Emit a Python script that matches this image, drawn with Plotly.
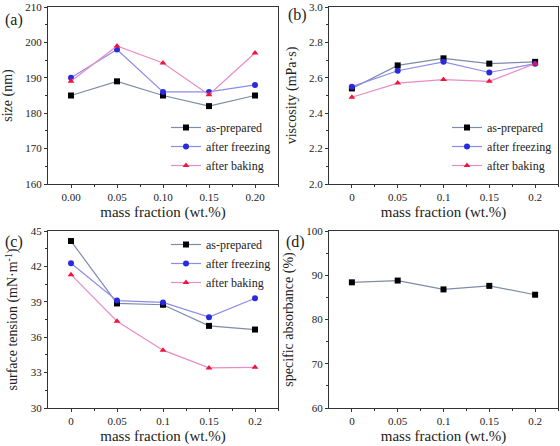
import plotly.graph_objects as go

x_vals = [0.0, 0.05, 0.10, 0.15, 0.20]
series_names = ["as-prepared", "after freezing", "after baking"]

size_asprep = [185, 189, 185, 182, 185]
size_freeze = [190, 198, 186, 186, 188]
size_bake = [189, 199, 194.2, 185.2, 197]

visc_asprep = [2.54, 2.67, 2.71, 2.68, 2.69]
visc_freeze = [2.55, 2.64, 2.69, 2.63, 2.68]
visc_bake = [2.49, 2.57, 2.59, 2.58, 2.68]

tens_asprep = [44.15, 38.86, 38.75, 36.96, 36.65]
tens_freeze = [42.27, 39.1, 38.95, 37.7, 39.3]
tens_bake = [41.3, 37.35, 34.9, 33.4, 33.45]

absorb = [88.4, 88.8, 86.8, 87.6, 85.6]

xtick_text_a = ["0.00", "0.05", "0.10", "0.15", "0.20"]
xtick_text = ["0", "0.05", "0.1", "0.15", "0.2"]

FONT = "Liberation Serif"
marker_colors = ["#000000", "#2a2ae0", "#f0143c"]
line_colors = ["#7d8cab", "#8c8ce8", "#e88cc8"]
symbols = ["square", "circle", "triangle-up"]

fig = go.Figure()

W, H = 560, 446
def dx(a, b):
    return [a / W, b / W]
def dy(top, bottom):
    return [1 - bottom / H, 1 - top / H]

panels = [
    ("x", "y", dx(48, 278), dy(7, 184)),
    ("x2", "y2", dx(329, 558), dy(7, 184)),
    ("x3", "y3", dx(48, 278), dy(231, 408)),
    ("x4", "y4", dx(329, 558), dy(231, 408)),
]

data_sets = [
    [size_asprep, size_freeze, size_bake],
    [visc_asprep, visc_freeze, visc_bake],
    [tens_asprep, tens_freeze, tens_bake],
]
legend_ids = ["legend", "legend2", "legend3"]

for p, series in enumerate(data_sets):
    xa, ya = panels[p][0], panels[p][1]
    for i, ys in enumerate(series):
        fig.add_trace(go.Scatter(
            x=x_vals, y=ys, mode="lines+markers", name=series_names[i],
            xaxis=xa, yaxis=ya, legend=legend_ids[p],
            line=dict(color=line_colors[i], width=1.2),
            marker=dict(symbol=symbols[i], color=marker_colors[i], size=6),
        ))

fig.add_trace(go.Scatter(
    x=x_vals, y=absorb, mode="lines+markers", name="specific absorbance",
    xaxis="x4", yaxis="y4", showlegend=False,
    line=dict(color=line_colors[0], width=1.2),
    marker=dict(symbol="square", color="#000000", size=6),
))

y_settings = [
    dict(range=[160, 210], dtick=10, tick0=160, title="size (nm)", tickformat="d"),
    dict(range=[2.0, 3.0], dtick=0.2, tick0=2.0, title="viscosity (mPa·s)", tickformat=".1f"),
    dict(range=[30, 45], dtick=3, tick0=30, title="surface tension (mN·m<sup>-1</sup>)", tickformat="d"),
    dict(range=[60, 100], dtick=10, tick0=60, title="specific absorbance (%)", tickformat="d"),
]

axis_common = dict(
    showline=True, linecolor="#333333", linewidth=1, mirror=True,
    ticks="outside", ticklen=3, tickwidth=1, tickcolor="#333333",
    showgrid=False, zeroline=False,
    tickfont=dict(family=FONT, size=11, color="#222222"),
)
minor_common = dict(ticks="outside", ticklen=2, tickcolor="#333333", showgrid=False)

layout = dict(
    width=W, height=H, margin=dict(l=0, r=0, t=0, b=0),
    paper_bgcolor="white", plot_bgcolor="white",
    font=dict(family=FONT, color="#222222"),
)

for k, (xa, ya, xd, yd) in enumerate(panels):
    xname = "xaxis" + ("" if k == 0 else str(k + 1))
    yname = "yaxis" + ("" if k == 0 else str(k + 1))
    ys = y_settings[k]
    layout[xname] = dict(
        domain=xd, anchor=ya, range=[-0.025, 0.225],
        tickvals=x_vals, ticktext=xtick_text_a if k == 0 else xtick_text,
        minor=dict(tickvals=[-0.025 + 0.05 * j for j in range(1, 6)], **minor_common),
        title=dict(text="mass fraction (wt.%)", font=dict(family=FONT, size=15, color="#222222"), standoff=4),
        automargin=False,
        **axis_common,
    )
    layout[yname] = dict(
        domain=yd, anchor=xa, range=ys["range"], dtick=ys["dtick"], tick0=ys["tick0"],
        tickformat=ys["tickformat"],
        minor=dict(dtick=ys["dtick"] / 2, **minor_common),
        title=dict(text=ys["title"], font=dict(family=FONT, size=14, color="#222222"), standoff=9),
        automargin=False,
        **axis_common,
    )

leg_common = dict(
    font=dict(family=FONT, size=12, color="#222222"),
    bgcolor="rgba(0,0,0,0)", borderwidth=0, tracegroupgap=0,
    itemwidth=30, xanchor="left", yanchor="top",
)
layout["legend"] = dict(x=166 / W, y=1 - 113 / H, **leg_common)
layout["legend2"] = dict(x=447 / W, y=1 - 113 / H, **leg_common)
layout["legend3"] = dict(x=166 / W, y=1 - 230 / H, **leg_common)

labels = [("(a)", 14, 20), ("(b)", 297, 15), ("(c)", 14, 242), ("(d)", 295, 242)]
layout["annotations"] = [
    dict(text=t, x=px / W, y=1 - py / H, xref="paper", yref="paper",
         showarrow=False, font=dict(family=FONT, size=16, color="#222222"),
         xanchor="center", yanchor="middle")
    for t, px, py in labels
]

fig.update_layout(**layout)
fig.write_html(
    "out.html",
    config={"displayModeBar": False},
    post_script="document.body.style.margin='0';document.body.style.overflow='hidden';",
)
